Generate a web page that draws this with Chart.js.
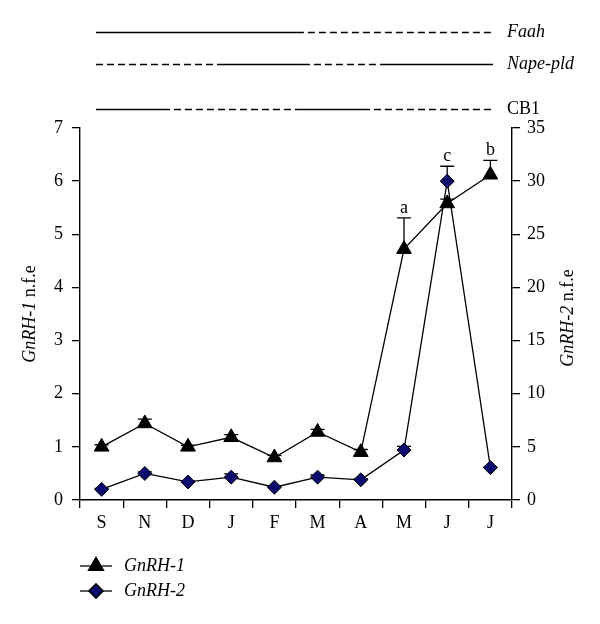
<!DOCTYPE html>
<html>
<head>
<meta charset="utf-8">
<script src="https://cdn.jsdelivr.net/npm/chart.js@4.4.1/dist/chart.umd.min.js"></script>
<style>
  html, body { margin: 0; padding: 0; background: #fff; }
  #wrap { width: 600px; height: 624px; position: relative; }
</style>
</head>
<body>
<div id="wrap"><canvas id="seasonChart"></canvas></div>
<script>
// months, Sept -> July
const months = ["S", "N", "D", "J", "F", "M", "A", "M", "J", "J"];

// GnRH-1 (left axis)
const gnrh1 = [1.0, 1.44, 1.0, 1.18, 0.8, 1.28, 0.9, 4.72, 5.58, 6.12];
const gnrh1Err = [1.04, 1.52, 1.03, 1.23, 0.84, 1.33, 0.95, 5.31, 5.66, 6.39];
const gnrh1Letters = ["", "", "", "", "", "", "", "a", "", "b"];

// GnRH-2 (right axis)
const gnrh2 = [1.0, 2.5, 1.7, 2.15, 1.2, 2.15, 1.9, 4.7, 30.0, 3.05];
const gnrh2Err = [1.1, 2.65, 1.8, 2.45, 1.3, 2.35, 2.0, 5.05, 31.4, 3.1];
const gnrh2Letters = ["", "", "", "", "", "", "", "", "c", ""];

const leftTicks = [0, 1, 2, 3, 4, 5, 6, 7];
const rightTicks = [0, 5, 10, 15, 20, 25, 30, 35];

// expression bars above the plot, in month-index units
const headerRows = [
    { name: "Faah", italic: true, segs: [[-0.13, 4.52, "solid"], [4.52, 9.06, "dash"]] },
    { name: "Nape-pld", italic: true, segs: [[-0.13, 2.67, "dash"], [2.67, 4.66, "solid"], [4.66, 6.56, "dash"], [6.56, 9.06, "solid"]] },
    { name: "CB1", italic: false, segs: [[-0.13, 1.42, "solid"], [1.42, 4.64, "dash"], [4.64, 6.05, "solid"], [6.05, 9.06, "dash"]] }
];
const headerY = [32, 64, 109];

const SERIF = "'Liberation Serif', 'DejaVu Serif', serif";
const NAVY = "#0c0c6e";

function drawErrors(chart, dsIndex, errs) {
    const ctx = chart.ctx;
    const meta = chart.getDatasetMeta(dsIndex);
    const yScale = chart.scales[meta.yAxisID];
    ctx.save();
    ctx.strokeStyle = "#000";
    ctx.lineWidth = 1.3;
    meta.data.forEach((pt, i) => {
        const top = yScale.getPixelForValue(errs[i]);
        ctx.beginPath();
        ctx.moveTo(pt.x, pt.y);
        ctx.lineTo(pt.x, top);
        ctx.moveTo(pt.x - 7, top);
        ctx.lineTo(pt.x + 7, top);
        ctx.stroke();
    });
    ctx.restore();
}

function drawLetters(chart, dsIndex, errs, letters) {
    const ctx = chart.ctx;
    const meta = chart.getDatasetMeta(dsIndex);
    const yScale = chart.scales[meta.yAxisID];
    ctx.save();
    ctx.fillStyle = "#000";
    ctx.font = "18px " + SERIF;
    ctx.textAlign = "center";
    ctx.textBaseline = "alphabetic";
    meta.data.forEach((pt, i) => {
        if (!letters[i]) return;
        ctx.fillText(letters[i], pt.x, yScale.getPixelForValue(errs[i]) - 5);
    });
    ctx.restore();
}

function drawMixedTitle(ctx, x, y, italicPart, plainPart) {
    ctx.save();
    ctx.translate(x, y);
    ctx.rotate(-Math.PI / 2);
    ctx.fillStyle = "#000";
    ctx.textBaseline = "middle";
    ctx.font = "italic 18px " + SERIF;
    const w1 = ctx.measureText(italicPart).width;
    ctx.font = "18px " + SERIF;
    const w2 = ctx.measureText(plainPart).width;
    let start = -(w1 + w2) / 2;
    ctx.textAlign = "left";
    ctx.font = "italic 18px " + SERIF;
    ctx.fillText(italicPart, start, 0);
    ctx.font = "18px " + SERIF;
    ctx.fillText(plainPart, start + w1, 0);
    ctx.restore();
}

const extras = {
    id: "extras",
    beforeDatasetsDraw(chart) {
        drawErrors(chart, 0, gnrh1Err);
        drawErrors(chart, 1, gnrh2Err);
    },
    afterDraw(chart) {
        const ctx = chart.ctx;
        const x = chart.scales.x;

        // header expression lines
        headerRows.forEach((row, r) => {
            const y = headerY[r] + 0.5;
            ctx.save();
            ctx.strokeStyle = "#000";
            ctx.lineWidth = 1.5;
            row.segs.forEach(([a, b, style]) => {
                ctx.setLineDash(style === "dash" ? [7, 4] : []);
                ctx.beginPath();
                ctx.moveTo(x.getPixelForValue(a), y);
                ctx.lineTo(x.getPixelForValue(b), y);
                ctx.stroke();
            });
            ctx.setLineDash([]);
            ctx.fillStyle = "#000";
            ctx.font = (row.italic ? "italic " : "") + "18px " + SERIF;
            ctx.textBaseline = "middle";
            ctx.textAlign = "left";
            ctx.fillText(row.name, 507, y);
            ctx.restore();
        });

        drawLetters(chart, 0, gnrh1Err, gnrh1Letters);
        drawLetters(chart, 1, gnrh2Err, gnrh2Letters);

        // axis titles
        drawMixedTitle(ctx, 30, 314, "GnRH-1", " n.f.e");
        drawMixedTitle(ctx, 568, 318, "GnRH-2", " n.f.e");

        // legend
        const items = [
            { ds: chart.data.datasets[0], y: 566 },
            { ds: chart.data.datasets[1], y: 591 }
        ];
        items.forEach(it => {
            ctx.save();
            ctx.strokeStyle = "#000";
            ctx.lineWidth = 1.3;
            ctx.beginPath();
            ctx.moveTo(80, it.y);
            ctx.lineTo(112, it.y);
            ctx.stroke();
            Chart.helpers.drawPoint(ctx, {
                pointStyle: it.ds.pointStyle,
                radius: it.ds.pointRadius,
                borderWidth: it.ds.pointBorderWidth
            }, 96, it.y);
            ctx.fillStyle = it.ds.pointBackgroundColor;
            ctx.strokeStyle = "#000";
            ctx.fill();
            ctx.stroke();
            ctx.fillStyle = "#000";
            ctx.font = "italic 18px " + SERIF;
            ctx.textBaseline = "middle";
            ctx.fillText(it.ds.label, 124, it.y);
            ctx.restore();
        });
    }
};

const tickFont = { family: SERIF, size: 18 };

new Chart(document.getElementById("seasonChart"), {
    type: "line",
    data: {
        labels: months,
        datasets: [
            {
                label: "GnRH-1",
                data: gnrh1,
                yAxisID: "y1",
                borderColor: "#000",
                borderWidth: 1.3,
                pointStyle: "triangle",
                pointRadius: 8.5,
                pointBorderWidth: 1,
                pointBackgroundColor: "#000",
                pointBorderColor: "#000",
                order: 1
            },
            {
                label: "GnRH-2",
                data: gnrh2,
                yAxisID: "y2",
                borderColor: "#000",
                borderWidth: 1.3,
                pointStyle: "rectRot",
                pointRadius: 7,
                pointBorderWidth: 1,
                pointBackgroundColor: NAVY,
                pointBorderColor: "#000",
                order: 0
            }
        ]
    },
    options: {
        responsive: true,
        maintainAspectRatio: false,
        animation: false,
        layout: {
            padding: { top: 128, bottom: 84, left: 0, right: 0 }
        },
        plugins: {
            legend: { display: false },
            tooltip: { enabled: false }
        },
        scales: {
            x: {
                type: "category",
                offset: true,
                grid: {
                    offset: true,
                    drawOnChartArea: false,
                    color: "#000",
                    tickColor: "#000",
                    tickLength: 8,
                    lineWidth: 1.3
                },
                border: { color: "#000", width: 1.4 },
                ticks: { color: "#000", font: tickFont, padding: 4, maxRotation: 0, autoSkip: false },
                afterFit(scale) { scale.height = 40; }
            },
            y1: {
                position: "left",
                min: 0,
                max: 7,
                grid: { drawOnChartArea: false, color: "#000", tickColor: "#000", tickLength: 8, lineWidth: 1.3 },
                border: { color: "#000", width: 1.4 },
                ticks: { color: "#000", font: tickFont, padding: 9 },
                afterBuildTicks(scale) { scale.ticks = leftTicks.map(v => ({ value: v })); },
                afterFit(scale) { scale.width = 80; }
            },
            y2: {
                position: "right",
                min: 0,
                max: 35,
                grid: { drawOnChartArea: false, color: "#000", tickColor: "#000", tickLength: 8, lineWidth: 1.3 },
                border: { color: "#000", width: 1.4 },
                ticks: { color: "#000", font: tickFont, padding: 7 },
                afterBuildTicks(scale) { scale.ticks = rightTicks.map(v => ({ value: v })); },
                afterFit(scale) { scale.width = 88; }
            }
        }
    },
    plugins: [extras]
});
</script>
</body>
</html>
